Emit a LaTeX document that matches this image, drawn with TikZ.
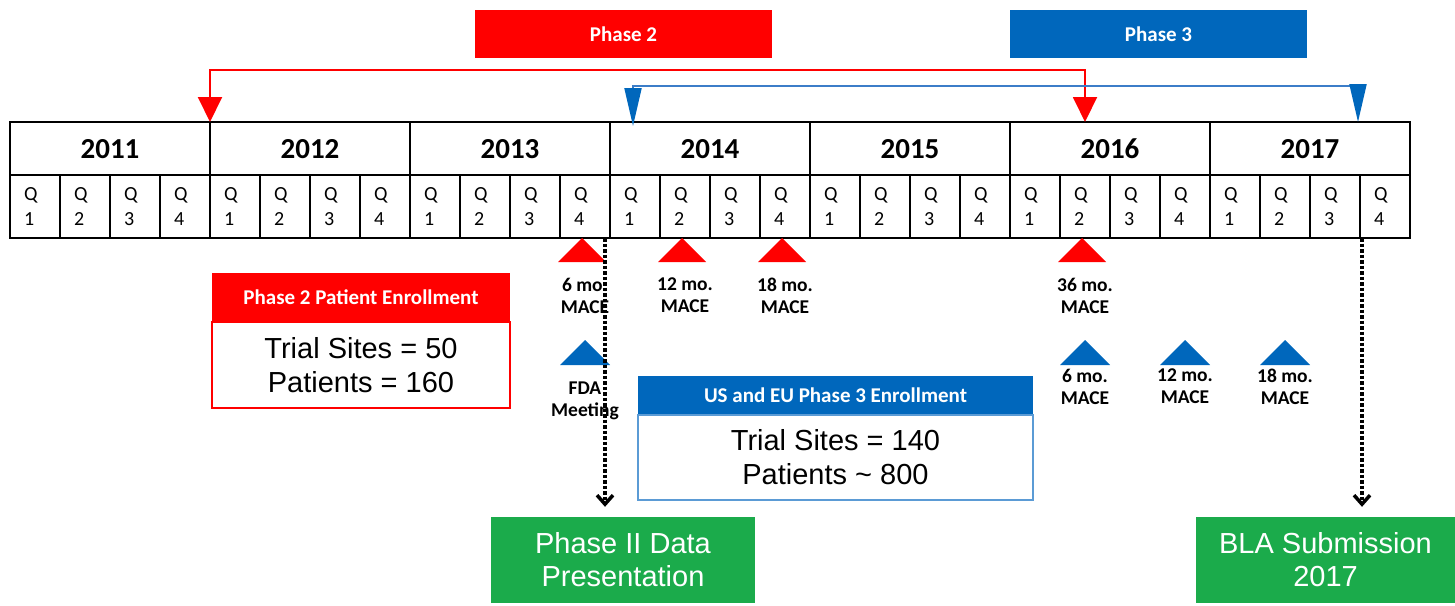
\documentclass[tikz,border=0pt]{standalone}
\usepackage{fontspec}
\setmainfont{Carlito}
\newfontfamily\arialfont{Liberation Sans}
\usetikzlibrary{arrows.meta, positioning}

\definecolor{ph2red}{RGB}{255,0,0}
\definecolor{ph3blue}{RGB}{0,103,188}
\definecolor{spanblue}{RGB}{60,125,200}
\definecolor{boxblue}{RGB}{91,155,213}
\definecolor{boxgreen}{RGB}{27,171,75}

\tikzset{
  yearcell/.style={draw, line width=1.5pt, minimum width=200pt, minimum height=53pt,
    inner sep=0pt, outer sep=0pt, text height=19pt, text depth=0pt,
    font=\fontsize{29}{29}\selectfont\bfseries},
  qcell/.style={draw, line width=1.5pt, minimum width=50pt, minimum height=63pt,
    text width=22pt, inner xsep=14pt, inner ysep=0pt, outer sep=0pt, align=left,
    font=\fontsize{20}{25}\selectfont},
  phasebox/.style={minimum width=297pt, minimum height=48pt, text=white,
    font=\fontsize{21}{21}\selectfont\bfseries},
  headbox/.style={text=white, outer sep=0pt, font=\fontsize{21}{21}\selectfont\bfseries},
  bodybox/.style={draw, line width=1.5pt, fill=white, align=center, outer sep=0pt,
    font=\arialfont\fontsize{29}{34}\selectfont},
  greenbox/.style={fill=boxgreen, text=white, align=center, minimum height=86pt,
    font=\arialfont\fontsize{29}{33}\selectfont},
  macelabel/.style={align=center, inner sep=0pt, font=\fontsize{19.5}{22}\selectfont\bfseries},
  ph2span/.style={ph2red, line width=2pt,
    {Triangle[length=25pt, width=24pt]}-{Triangle[length=25pt, width=24pt]}},
  ph3span/.style={spanblue, line width=2pt,
    {Triangle[length=38pt, width=17pt, fill=ph3blue, color=ph3blue]}-{Triangle[length=38pt, width=17pt, fill=ph3blue, color=ph3blue]}},
  dotarrow/.style={line width=3.5pt, dash pattern=on 3.5pt off 2pt,
    -{Straight Barb[length=9pt, width=16pt]}, shorten >=10pt},
}

\begin{document}
\begin{tikzpicture}[x=1pt, y=-1pt]
\useasboundingbox (0,0) rectangle (1455,605);

% years and quarters
\foreach \yr [count=\i from 0] in {2011,...,2017} {
  \node[yearcell] (y\yr) at (110+200*\i, 148.5) {\yr};
  \foreach \q in {1,...,4}
    \node[qcell] (q\yr-\q) at (200*\i+50*\q-15, 206.5) {Q\\\q};
}
\draw[line width=2.5pt] (y2011.north west) rectangle (q2017-4.south east);

% phases
\node[phasebox, fill=ph2red] (ph2) at (623.5,34) {Phase 2};
\node[phasebox, fill=ph3blue] (ph3) at (1158.5,34) {Phase 3};

\coordinate (ph2top) at (0,70);
\draw[ph2span] (y2012.north west) -- (y2012.north west |- ph2top) -| (q2016-2.north |- y2016.north);
\draw[ph3span] (q2014-1.north |- y2014.north) ++(-2,4) -- ++(0,-40) -| ([xshift=-2pt]q2017-3.north east |- y2017.north);

% MACE markers
\foreach \q/\m in {q2013-4/6, q2014-2/12, q2014-4/18, q2016-2/36} {
  \fill[ph2red] ([xshift=-3pt]\q.south) -- ++(24,24) -- ++(-48,0) -- cycle;
  \node[macelabel, below=40pt of \q.south] (mace\m) {\m~mo.\\MACE};
}
\foreach \q/\m in {q2016-2/6, q2016-4/12, q2017-2/18} {
  \fill[ph3blue] (\q.south) ++(0,102) -- ++(25,25) -- ++(-50,0) -- cycle;
  \node[macelabel, below=131pt of \q.south] (fu\m) {\m~mo.\\MACE};
}
\fill[ph3blue] (q2013-4.south) ++(0,102) -- ++(25,25) -- ++(-50,0) -- cycle;
\node[macelabel, below=144pt of q2013-4.south] (fda) {FDA\\Meeting};

% enrollment
\node[headbox, fill=ph2red, minimum width=298pt, minimum height=49pt] (p2head) at (361,297.5) {Phase 2 Patient Enrollment};
\node[bodybox, draw=ph2red, minimum width=298pt, minimum height=86pt, below=0pt of p2head] (p2body) {Trial Sites = 50\\Patients = 160};

\node[headbox, fill=ph3blue, minimum width=395pt, minimum height=39pt] (p3head) at (835.5,395.5) {US and EU Phase 3 Enrollment};
\node[bodybox, draw=boxblue, minimum width=395pt, minimum height=85pt, below=0pt of p3head] (p3body) {Trial Sites = 140\\Patients \textasciitilde{} 800};

% milestones
\node[greenbox, minimum width=264pt] (data) at (623,560) {Phase II Data\\Presentation};
\node[greenbox, minimum width=259pt] (bla) at (1325.5,560) {BLA Submission\\2017};

\draw[dotarrow] ([xshift=-5pt]q2013-4.south east) -- ([xshift=-5pt]q2013-4.south east |- data.north);
\draw[dotarrow] ([xshift=2pt]q2017-3.south east) -- ([xshift=2pt]q2017-3.south east |- bla.north);

\end{tikzpicture}
\end{document}
